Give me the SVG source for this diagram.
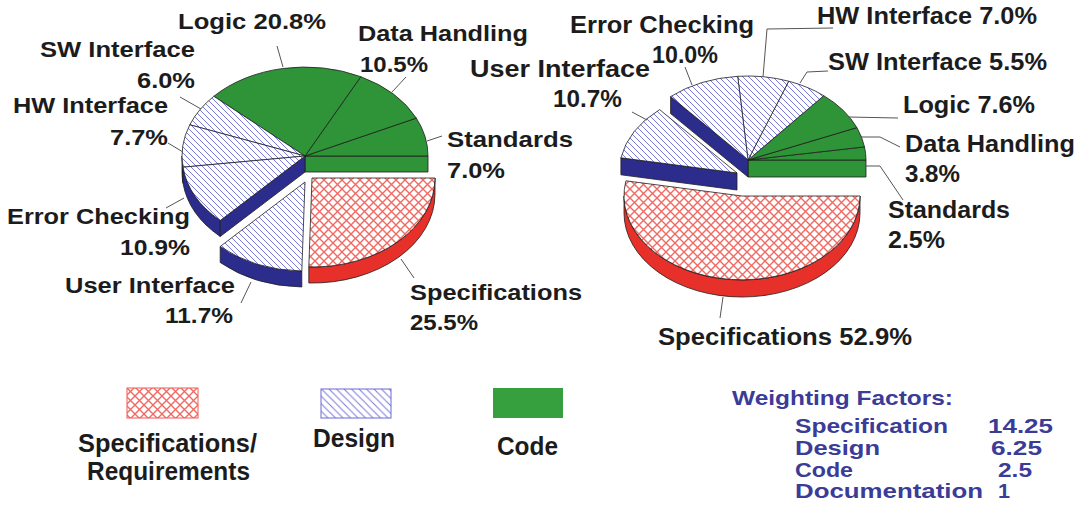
<svg xmlns="http://www.w3.org/2000/svg" width="1083" height="507" viewBox="0 0 1083 507">
  <defs>
    <!-- diagonal hatch used for design slices -->
    <pattern id="hatch" patternUnits="userSpaceOnUse" width="6" height="6">
      <rect width="6" height="6" fill="#ffffff"/>
      <path d="M-1,5 L1,7 M0,0 L6,6 M5,-1 L7,1" stroke="#7b7bdc" stroke-width="1"/>
    </pattern>
    <pattern id="hatchLegend" patternUnits="userSpaceOnUse" width="7.5" height="7.5">
      <rect width="7.5" height="7.5" fill="#ffffff"/>
      <path d="M-1,6.5 L1,8.5 M0,0 L7.5,7.5 M6.5,-1 L8.5,1" stroke="#7b7bdc" stroke-width="1"/>
    </pattern>
    <!-- red cross hatch used for specification slices -->
    <pattern id="cross" patternUnits="userSpaceOnUse" width="9" height="9">
      <rect width="9" height="9" fill="#ffffff"/>
      <path d="M-1,-1 L10,10 M10,-1 L-1,10" stroke="#f06a64" stroke-width="1.4"/>
    </pattern>
    <style>
      .edge { stroke: #1e1e1e; stroke-width: 0.8; stroke-linejoin: round; }
      .code { fill: #2f9438; }
      .design { fill: url(#hatch); }
      .spec { fill: url(#cross); }
      .side-design { fill: #2c2c8c; }
      .side-spec { fill: #e8302a; }
      .lbl { font-family: "Liberation Sans", Arial, sans-serif; font-weight: bold; fill: #1c1c1c; }
      .s22 { font-size: 22px; }
      .s23 { font-size: 23px; }
      .s25 { font-size: 25px; }
      .wf { font-family: "Liberation Sans", Arial, sans-serif; font-weight: bold; font-size: 21px; fill: #3b3b98; }
      .lead { stroke: #555555; stroke-width: 1; fill: none; }
    </style>
  </defs>

  <!-- Left pie: centre 305,156, rx 123, ry 89, depth 16 -->
  <g id="left-pie">
    <g id="l-standards">
      <path class="code edge" d="M305,156 L428,156 L428,172 L305,172 Z"/>
      <path class="code edge" d="M305,156 L428,156 A123,89 0 0 0 416.3,118.1 Z"/>
      <text class="lbl s22" x="447" y="147" textLength="126" lengthAdjust="spacingAndGlyphs">Standards</text>
      <text class="lbl s22" x="447" y="178" textLength="58" lengthAdjust="spacingAndGlyphs">7.0%</text>
    </g>
    <g id="l-data-handling">
      <path class="code edge" d="M305,156 L416.3,118.1 A123,89 0 0 0 360.8,76.7 Z"/>
      <text class="lbl s22" x="358" y="41" textLength="170" lengthAdjust="spacingAndGlyphs">Data Handling</text>
      <text class="lbl s22" x="360" y="72" textLength="68" lengthAdjust="spacingAndGlyphs">10.5%</text>
    </g>
    <g id="l-logic">
      <path class="code edge" d="M305,156 L360.8,76.7 A123,89 0 0 0 213.8,96.3 Z"/>
      <text class="lbl s22" x="178" y="29" textLength="148" lengthAdjust="spacingAndGlyphs">Logic 20.8%</text>
    </g>
    <g id="l-sw-interface">
      <path class="design edge" d="M305,156 L213.8,96.3 A123,89 0 0 0 189.8,124.8 Z"/>
      <text class="lbl s22" x="40" y="57" textLength="155" lengthAdjust="spacingAndGlyphs">SW Interface</text>
      <text class="lbl s22" x="137" y="88" textLength="58" lengthAdjust="spacingAndGlyphs">6.0%</text>
    </g>
    <g id="l-hw-interface">
      <path class="side-design edge" d="M182,156 A123,89 0 0 0 183,167.2 L183,183.2 A123,89 0 0 1 182,172 Z"/>
      <path class="design edge" d="M305,156 L189.8,124.8 A123,89 0 0 0 183,167.2 Z"/>
      <text class="lbl s22" x="13" y="113" textLength="155" lengthAdjust="spacingAndGlyphs">HW Interface</text>
      <text class="lbl s22" x="110" y="145" textLength="58" lengthAdjust="spacingAndGlyphs">7.7%</text>
    </g>
    <g id="l-error-checking">
      <path class="side-design edge" d="M183,167.2 A123,89 0 0 0 220.2,220.5 L220.2,236.5 A123,89 0 0 1 183,183.2 Z"/>
      <path class="side-design edge" d="M305,156 L220.2,220.5 L220.2,236.5 L305,172 Z"/>
      <path class="design edge" d="M305,156 L183,167.2 A123,89 0 0 0 220.2,220.5 Z"/>
      <text class="lbl s22" x="7" y="224" textLength="183" lengthAdjust="spacingAndGlyphs">Error Checking</text>
      <text class="lbl s22" x="120" y="255" textLength="70" lengthAdjust="spacingAndGlyphs">10.9%</text>
    </g>
    <g id="l-user-interface">
      <path class="side-design edge" d="M220.2,246.5 A123,89 0 0 0 301.8,271 L301.8,287 A123,89 0 0 1 220.2,262.5 Z"/>
      <path class="design edge" d="M305,182 L220.2,246.5 A123,89 0 0 0 301.8,271 Z"/>
      <text class="lbl s22" x="65" y="293" textLength="170" lengthAdjust="spacingAndGlyphs">User Interface</text>
      <text class="lbl s22" x="165" y="323" textLength="68" lengthAdjust="spacingAndGlyphs">11.7%</text>
    </g>
    <g id="l-specifications">
      <path class="side-spec edge" d="M308.8,267 A123,89 0 0 0 435,178 L435,194 A123,89 0 0 1 308.8,283 Z"/>
      <path class="spec edge" d="M312,178 L308.8,267 A123,89 0 0 0 435,178 Z"/>
      <text class="lbl s22" x="410" y="300" textLength="172" lengthAdjust="spacingAndGlyphs">Specifications</text>
      <text class="lbl s22" x="410" y="330" textLength="68" lengthAdjust="spacingAndGlyphs">25.5%</text>
    </g>
  </g>

  <!-- Right pie: centre 748,160, rx 118, ry 84, depth 17 -->
  <g id="right-pie">
    <g id="r-standards">
      <path class="code edge" d="M748,160 L866,160 L866,177 L748,177 Z"/>
      <path class="code edge" d="M748,160 L866,160 A118,84 0 0 0 864.5,146.9 Z"/>
      <text class="lbl s23" x="888" y="218" textLength="122" lengthAdjust="spacingAndGlyphs">Standards</text>
      <text class="lbl s23" x="888" y="248" textLength="57" lengthAdjust="spacingAndGlyphs">2.5%</text>
    </g>
    <g id="r-data-handling">
      <path class="code edge" d="M748,160 L864.5,146.9 A118,84 0 0 0 856.9,127.6 Z"/>
      <text class="lbl s23" x="905" y="152" textLength="170" lengthAdjust="spacingAndGlyphs">Data Handling</text>
      <text class="lbl s23" x="905" y="182" textLength="55" lengthAdjust="spacingAndGlyphs">3.8%</text>
    </g>
    <g id="r-logic">
      <path class="code edge" d="M748,160 L856.9,127.6 A118,84 0 0 0 823.8,95.7 Z"/>
      <text class="lbl s23" x="903" y="113" textLength="132" lengthAdjust="spacingAndGlyphs">Logic 7.6%</text>
    </g>
    <g id="r-sw-interface">
      <path class="design edge" d="M748,160 L823.8,95.7 A118,84 0 0 0 788.7,81.2 Z"/>
      <text class="lbl s23" x="828" y="70" textLength="219" lengthAdjust="spacingAndGlyphs">SW Interface 5.5%</text>
    </g>
    <g id="r-hw-interface">
      <path class="design edge" d="M748,160 L788.7,81.2 A118,84 0 0 0 737.7,76.3 Z"/>
      <text class="lbl s23" x="817" y="24" textLength="220" lengthAdjust="spacingAndGlyphs">HW Interface 7.0%</text>
    </g>
    <g id="r-error-checking">
      <path class="side-design edge" d="M748,160 L670.6,96.6 L670.6,113.6 L748,177 Z"/>
      <path class="design edge" d="M748,160 L737.7,76.3 A118,84 0 0 0 670.6,96.6 Z"/>
      <text class="lbl s23" x="570" y="33" textLength="184" lengthAdjust="spacingAndGlyphs">Error Checking</text>
      <text class="lbl s23" x="652" y="63" textLength="66" lengthAdjust="spacingAndGlyphs">10.0%</text>
    </g>
    <g id="r-user-interface">
      <path class="side-design edge" d="M737,173 L620.9,157.8 L620.9,174.8 L737,190 Z"/>
      <path class="design edge" d="M737,173 L659.6,109.6 A118,84 0 0 0 620.9,157.8 Z"/>
      <text class="lbl s23" x="470" y="77" textLength="180" lengthAdjust="spacingAndGlyphs">User Interface</text>
      <text class="lbl s23" x="553" y="107" textLength="69" lengthAdjust="spacingAndGlyphs">10.7%</text>
    </g>
    <g id="r-specifications">
      <path class="side-spec edge" d="M624,196 A118,84 0 0 0 860,196 L860,213 A118,84 0 0 1 624,213 Z"/>
      <path class="spec edge" d="M742,196 L860,196 A118,84 0 1 1 625.9,180.8 Z"/>
      <text class="lbl s23" x="658" y="345" textLength="254" lengthAdjust="spacingAndGlyphs">Specifications 52.9%</text>
    </g>
  </g>

  <!-- Label leader lines -->
  <g id="connectors">
    <path class="lead" d="M277,46 L283,67"/>
    <path class="lead" d="M406,77 L392,92"/>
    <path class="lead" d="M427,141 L442,136"/>
    <path class="lead" d="M180,97 L201,109"/>
    <path class="lead" d="M168,143 L183,152"/>
    <path class="lead" d="M166,208 L184,198"/>
    <path class="lead" d="M241,303 L251,282"/>
    <path class="lead" d="M401,259 L414,278"/>
    <path class="lead" d="M685,67 L692,85"/>
    <path class="lead" d="M833,28 L767,29 L763,77"/>
    <path class="lead" d="M828,71 L807,72 L800,83"/>
    <path class="lead" d="M848,117 L898,118"/>
    <path class="lead" d="M860,137 L880,137 L900,147"/>
    <path class="lead" d="M865,166 L880,166 L903,200"/>
    <path class="lead" d="M632,112 L647,120"/>
    <path class="lead" d="M723,297 L720,318"/>
  </g>

  <!-- Legend -->
  <g id="legend-spec">
    <rect x="127" y="388" width="71" height="30" fill="url(#cross)" stroke="#f05a55" stroke-width="1"/>
    <text class="lbl s25" x="78" y="452" textLength="179" lengthAdjust="spacingAndGlyphs">Specifications/</text>
    <text class="lbl s25" x="87" y="480" textLength="163" lengthAdjust="spacingAndGlyphs">Requirements</text>
  </g>
  <g id="legend-design">
    <rect x="321" y="389" width="70" height="29" fill="url(#hatchLegend)" stroke="#6a6ad8" stroke-width="1"/>
    <text class="lbl s25" x="313" y="447" textLength="82" lengthAdjust="spacingAndGlyphs">Design</text>
  </g>
  <g id="legend-code">
    <rect x="493" y="388" width="70" height="30" fill="#36a03e"/>
    <text class="lbl s25" x="497" y="455" textLength="61" lengthAdjust="spacingAndGlyphs">Code</text>
  </g>

  <!-- Weighting factors table -->
  <g id="weighting-factors">
    <text class="wf" x="732" y="405" textLength="221" lengthAdjust="spacingAndGlyphs">Weighting Factors:</text>
    <text class="wf" x="795" y="433" textLength="153" lengthAdjust="spacingAndGlyphs">Specification</text>
    <text class="wf" x="988" y="433" textLength="65" lengthAdjust="spacingAndGlyphs">14.25</text>
    <text class="wf" x="795" y="455" textLength="85" lengthAdjust="spacingAndGlyphs">Design</text>
    <text class="wf" x="991" y="455" textLength="51" lengthAdjust="spacingAndGlyphs">6.25</text>
    <text class="wf" x="795" y="477" textLength="58" lengthAdjust="spacingAndGlyphs">Code</text>
    <text class="wf" x="998" y="477" textLength="34" lengthAdjust="spacingAndGlyphs">2.5</text>
    <text class="wf" x="795" y="498" textLength="188" lengthAdjust="spacingAndGlyphs">Documentation</text>
    <text class="wf" x="998" y="498" textLength="12" lengthAdjust="spacingAndGlyphs">1</text>
  </g>
</svg>
